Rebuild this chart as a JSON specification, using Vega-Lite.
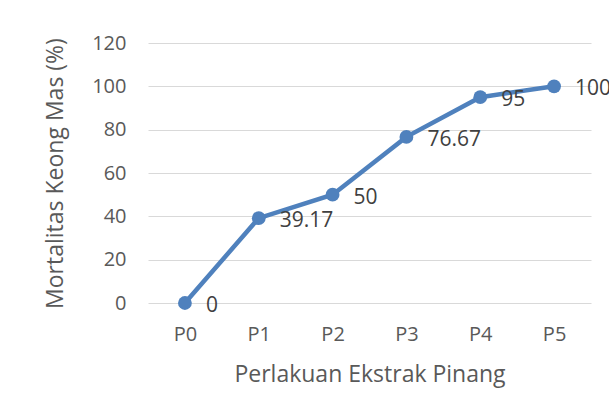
{
  "$schema": "https://vega.github.io/schema/vega-lite/v6.json",
  "width": 443,
  "height": 260,
  "autosize": {"type": "none"},
  "padding": {"left": 148, "top": 43, "right": 18, "bottom": 99},
  "background": "white",
  "config": {
    "view": {"stroke": null},
    "font": "Open Sans"
  },
  "data": {
    "values": [
      {"perlakuan": "P0", "mortalitas": 0, "label": "0"},
      {"perlakuan": "P1", "mortalitas": 39.17, "label": "39.17"},
      {"perlakuan": "P2", "mortalitas": 50, "label": "50"},
      {"perlakuan": "P3", "mortalitas": 76.67, "label": "76.67"},
      {"perlakuan": "P4", "mortalitas": 95, "label": "95"},
      {"perlakuan": "P5", "mortalitas": 100, "label": "100"}
    ]
  },
  "encoding": {
    "x": {
      "field": "perlakuan",
      "type": "ordinal",
      "scale": {"type": "point", "padding": 0.5},
      "axis": {
        "title": "Perlakuan Ekstrak Pinang",
        "titleFont": "Open Sans",
        "titleFontSize": 23,
        "titleFontWeight": "normal",
        "titleColor": "#595959",
        "titlePadding": 19,
        "labelFont": "Open Sans",
        "labelAngle": 0,
        "labelFontSize": 20,
        "labelColor": "#595959",
        "labelPadding": 21,
        "ticks": false,
        "domain": false,
        "grid": false
      }
    },
    "y": {
      "field": "mortalitas",
      "type": "quantitative",
      "scale": {"domain": [0, 120], "nice": false},
      "axis": {
        "title": "Mortalitas Keong Mas (%)",
        "titleFont": "Open Sans",
        "titleFontSize": 23,
        "titleFontWeight": "normal",
        "titleColor": "#595959",
        "titlePadding": 24,
        "values": [0, 20, 40, 60, 80, 100, 120],
        "labelFont": "Open Sans",
        "labelFontSize": 20,
        "labelColor": "#595959",
        "labelPadding": 22,
        "ticks": false,
        "domain": false,
        "grid": true,
        "gridColor": "#d9d9d9",
        "gridWidth": 1.2
      }
    }
  },
  "layer": [
    {
      "mark": {"type": "line", "color": "#4f81bd", "strokeWidth": 4.5, "point": {"filled": true, "size": 190, "color": "#4f81bd", "opacity": 1}}
    },
    {
      "mark": {"type": "text", "font": "Open Sans", "align": "left", "baseline": "middle", "dx": 21, "dy": 3, "fontSize": 21, "color": "#404040"},
      "encoding": {"text": {"field": "label"}}
    }
  ]
}
